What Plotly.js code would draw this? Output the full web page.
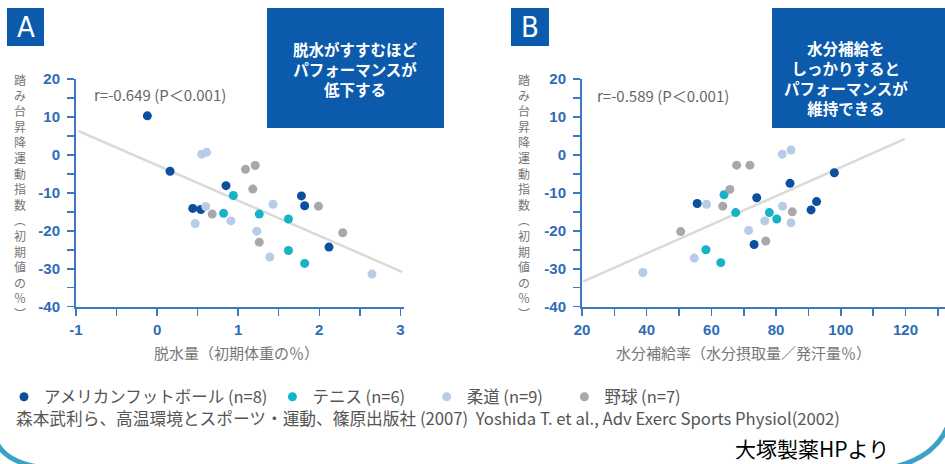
<!DOCTYPE html>
<html>
<head>
<meta charset="utf-8">
<script src="https://cdn.plot.ly/plotly-3.0.1.min.js"></script>
<style>html,body{margin:0;padding:0;background:#fff;}#chart{width:945px;height:464px;}</style>
</head>
<body>
<div id="chart"></div>
<script>
// ---------- DATA ----------
const seriesNames = ["アメリカンフットボール (n=8)", "テニス (n=6)\u2002\u2002", "柔道 (n=9)\u2002\u2002", "野球 (n=7)"];

// Panel A: dehydration (% initial body weight) vs step-test index (% of initial)
const afA_x   = [-0.12, 0.16, 0.44, 0.54, 0.85, 1.78, 1.82, 2.12];
const afA_y   = [10.3, -4.3, -14.1, -14.4, -8.1, -10.8, -13.4, -24.3];
const tenA_x  = [0.82, 0.94, 1.26, 1.62, 1.62, 1.82];
const tenA_y  = [-15.4, -10.7, -15.6, -16.9, -25.2, -28.6];
const judoA_x = [0.55, 0.61, 0.47, 0.60, 0.91, 1.23, 1.39, 1.43, 2.65];
const judoA_y = [0.2, 0.7, -18.1, -13.6, -17.4, -20.1, -26.9, -13.0, -31.4];
const baseA_x = [0.68, 1.09, 1.18, 1.21, 1.26, 1.99, 2.29];
const baseA_y = [-15.6, -3.8, -9.0, -2.8, -23.0, -13.5, -20.5];
const trendA_x = [-0.97, 3.02];
const trendA_y = [6.3, -30.8];

// Panel B: fluid replacement rate (% intake / sweat) vs step-test index
const afB_x   = [55.6, 73.2, 74.0, 84.3, 90.8, 92.5, 98.0];
const afB_y   = [-12.8, -23.6, -11.3, -7.5, -14.5, -12.3, -4.7];
const tenB_x  = [58.3, 62.9, 63.9, 67.5, 77.9, 80.2];
const tenB_y  = [-25.0, -28.4, -10.5, -15.2, -15.2, -16.9];
const judoB_x = [38.8, 54.7, 58.5, 71.5, 76.5, 81.9, 82.0, 84.6, 84.6];
const judoB_y = [-31.0, -27.2, -13.0, -19.9, -17.4, 0.2, -13.5, 1.3, -17.9];
const baseB_x = [50.5, 63.5, 65.7, 67.8, 71.9, 76.8, 85.0];
const baseB_y = [-20.2, -13.5, -9.1, -2.7, -2.7, -22.7, -15.0];
const trendB_x = [20.3, 119.8];
const trendB_y = [-33.4, 4.2];

const yTickVals = [-40, -30, -20, -10, 0, 10, 20];
const yTickText = ["-40", "-30", "-20", "-10", "0", "10", "20"];
const xATickVals = [-1, 0, 1, 2, 3];
const xATickText = ["-1", "0", "1", "2", "3"];
const xBTickVals = [20, 40, 60, 80, 100, 120];
const xBTickText = ["20", "40", "60", "80", "100", "120"];

// ---------- STYLE ----------
const W = 945, H = 464;
const px = v => v / W;
const py = v => 1 - v / H;
const colors = ["#0d4f9f", "#16b2c8", "#b7cce6", "#a8a8a8"];
const axisBlue = "#3b79c3";
const tickFont = {family: "Liberation Sans Narrow, Liberation Sans, Arial, sans-serif", size: 15, color: "#2f6cb6", weight: "bold"};
const jp = "Noto Sans CJK JP, sans-serif";
const narrowJp = "Liberation Sans Narrow, Noto Sans CJK JP, sans-serif";
const boxBlue = "#0b5aab";

function pts(x, y, i, xa, ya, leg) {
  return {x: x, y: y, type: "scatter", mode: "markers", name: seriesNames[i],
    xaxis: xa, yaxis: ya, showlegend: leg, hoverinfo: "x+y",
    marker: {color: colors[i], size: 9, line: {width: 0}}};
}
function trend(x, y, xa, ya) {
  return {x: x, y: y, type: "scatter", mode: "lines", xaxis: xa, yaxis: ya,
    showlegend: false, hoverinfo: "skip", line: {color: "#dadada", width: 2.5}};
}

const data = [
  trend(trendA_x, trendA_y, "x", "y"),
  trend(trendB_x, trendB_y, "x2", "y2"),
  pts(afA_x, afA_y, 0, "x", "y", true),
  pts(tenA_x, tenA_y, 1, "x", "y", true),
  pts(judoA_x, judoA_y, 2, "x", "y", true),
  pts(baseA_x, baseA_y, 3, "x", "y", true),
  pts(afB_x, afB_y, 0, "x2", "y2", false),
  pts(tenB_x, tenB_y, 1, "x2", "y2", false),
  pts(judoB_x, judoB_y, 2, "x2", "y2", false),
  pts(baseB_x, baseB_y, 3, "x2", "y2", false)
];

function xAxis(domain, range, vals, text, minorDt, anchor) {
  return {domain: domain, range: range, anchor: anchor, showgrid: false, zeroline: false,
    showline: true, linecolor: axisBlue, linewidth: 2,
    ticks: "outside", ticklen: 7, tickwidth: 1.5, tickcolor: axisBlue,
    tickvals: vals, ticktext: text, tickfont: tickFont, ticklabelstandoff: 1,
    minor: {tickmode: "linear", dtick: minorDt, tick0: range[0], ticks: "outside", ticklen: 7, tickwidth: 1.5, tickcolor: axisBlue, showgrid: false},
    fixedrange: true};
}
function yAxis(domain, anchor) {
  return {domain: domain, range: [-40, 20], anchor: anchor, showgrid: false, zeroline: false,
    showline: true, linecolor: axisBlue, linewidth: 2,
    ticks: "outside", ticklen: 7, tickwidth: 1.5, tickcolor: axisBlue,
    tickvals: yTickVals, ticktext: yTickText, tickfont: tickFont, ticklabelstandoff: 4,
    minor: {tickmode: "linear", dtick: 5, tick0: -40, ticks: "outside", ticklen: 7, tickwidth: 1.5, tickcolor: axisBlue, showgrid: false},
    fixedrange: true};
}

const yDom = [py(306.7), py(79)];
const vertTitle = "踏<br>み<br>台<br>昇<br>降<br>運<br>動<br>指<br>数<br>︵<br>初<br>期<br>値<br>の<br>％<br>︶";

function ann(text, x, y, font, extra) {
  return Object.assign({text: text, x: px(x), y: py(y), xref: "paper", yref: "paper", showarrow: false,
    xanchor: "center", yanchor: "middle", align: "center", font: font}, extra || {});
}

const annotations = [
  ann("A", 25.5, 27, {family: "DejaVu Sans Condensed, Liberation Sans Narrow, Liberation Sans, sans-serif", size: 29, color: "#fff"}),
  ann("B", 530, 27, {family: "DejaVu Sans Condensed, Liberation Sans Narrow, Liberation Sans, sans-serif", size: 29, color: "#fff"}),
  ann("脱水がすすむほど<br>パフォーマンスが<br>低下する", 355, 69, {family: jp, size: 15.5, color: "#fff", weight: "bold"}),
  ann("水分補給を<br>しっかりすると<br>パフォーマンスが<br>維持できる", 846, 78, {family: jp, size: 15.5, color: "#fff", weight: "bold"}),
  ann("r=-0.649 (P＜0.001)", 160, 94, {family: narrowJp, size: 15, color: "#666"}),
  ann("r=-0.589 (P＜0.001)", 663, 95, {family: narrowJp, size: 15, color: "#666"}),
  ann(vertTitle, 20, 197, {family: jp, size: 12, color: "#777"}),
  ann(vertTitle, 524, 197, {family: jp, size: 12, color: "#777"}),
  ann("脱水量（初期体重の％）", 236.5, 352, {family: jp, size: 15, color: "#777"}),
  ann("水分補給率（水分摂取量／発汗量％）", 743, 352, {family: jp, size: 15, color: "#777"}),
  ann("森本武利ら、高温環境とスポーツ・運動、篠原出版社 (2007)  Yoshida T. et al., Adv Exerc Sports Physiol(2002)",
      14, 418, {family: narrowJp, size: 16.7, color: "#555"}, {xanchor: "left", align: "left"}),
  ann("大塚製薬HPより", 812, 448, {family: jp, size: 21, color: "#000"})
];

const shapes = [
  {type: "rect", xref: "paper", yref: "paper", x0: px(7), x1: px(44), y0: py(46), y1: py(8), fillcolor: boxBlue, line: {width: 0}},
  {type: "rect", xref: "paper", yref: "paper", x0: px(511), x1: px(549), y0: py(46), y1: py(8), fillcolor: boxBlue, line: {width: 0}},
  {type: "rect", xref: "paper", yref: "paper", x0: px(267), x1: px(444), y0: py(128), y1: py(8), fillcolor: boxBlue, line: {width: 0}},
  {type: "rect", xref: "paper", yref: "paper", x0: px(772), x1: px(950), y0: py(128), y1: py(8), fillcolor: boxBlue, line: {width: 0}},
  {type: "path", xref: "paper", yref: "paper",
   path: "M " + px(-2) + "," + py(445) + " Q " + px(8) + "," + py(463) + " " + px(44) + "," + py(468),
   line: {color: "#3aa2c7", width: 5}},
  {type: "path", xref: "paper", yref: "paper",
   path: "M " + px(947) + "," + py(428) + " Q " + px(933) + "," + py(459) + " " + px(890) + "," + py(468),
   line: {color: "#3aa2c7", width: 5}}
];

const layout = {
  width: W, height: H,
  margin: {l: 0, r: 0, t: 0, b: 0},
  paper_bgcolor: "#fff", plot_bgcolor: "rgba(0,0,0,0)",
  showlegend: true,
  legend: {orientation: "h", x: px(4), y: py(397), xanchor: "left", yanchor: "middle",
    bgcolor: "rgba(0,0,0,0)", font: {family: jp, size: 16.5, color: "#555"},
    itemwidth: 30, tracegroupgap: 0},
  xaxis: xAxis([px(76), px(404.4)], [-1, 3.05], xATickVals, xATickText, 0.5, "y"),
  yaxis: yAxis(yDom, "x"),
  xaxis2: xAxis([px(582), px(945)], [20, 132.2], xBTickVals, xBTickText, 10, "y2"),
  yaxis2: yAxis(yDom, "x2"),
  annotations: annotations,
  shapes: shapes
};

Plotly.newPlot("chart", data, layout, {displayModeBar: false, staticPlot: true});
</script>
</body>
</html>
